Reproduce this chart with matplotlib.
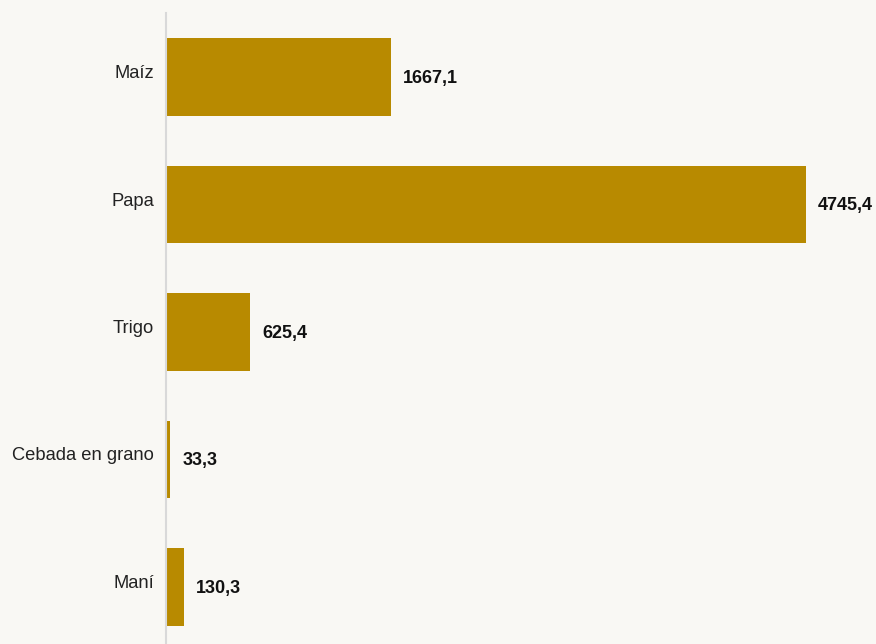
import matplotlib.pyplot as plt
from matplotlib.transforms import ScaledTranslation

cultivos = ["Maíz", "Papa", "Trigo", "Cebada en grano", "Maní"]
valores = [1667.1, 4745.4, 625.4, 33.3, 130.3]
etiquetas = ["1667,1", "4745,4", "625,4", "33,3", "130,3"]

plt.rcParams['font.family'] = ['Liberation Sans', 'DejaVu Sans']

fondo = "#f9f8f4"
fig = plt.figure(figsize=(8.76, 6.44), dpi=100, facecolor=fondo)
ax = fig.add_axes([166/876, -6.75/644, 710/876, 637.5/644])
ax.set_facecolor(fondo)

pos = range(len(cultivos))
ax.barh(pos, valores, height=0.61, color="#b88a00")
ax.set_ylim(len(cultivos) - 0.5, -0.5)
ax.set_xlim(0, 710/0.1349)

for p, v, t in zip(pos, valores, etiquetas):
    ax.annotate(t, (v, p), xytext=(8.5, -1), textcoords="offset points",
                va="center", ha="left", fontsize=13, fontweight="bold",
                color="#111111")

# etiquetas de categoria, un poco por encima del centro de la barra
desplaz = ScaledTranslation(-0.12, 0.035, fig.dpi_scale_trans)
for p, c in zip(pos, cultivos):
    ax.text(0, p, c, transform=ax.get_yaxis_transform() + desplaz,
            ha="right", va="center", fontsize=13.2, color="#222222")

ax.set_yticks([])
ax.set_xticks([])
for s in ["top", "right", "bottom"]:
    ax.spines[s].set_visible(False)
ax.spines["left"].set_color("#d9d9d9")
ax.spines["left"].set_linewidth(1.5)

fig.savefig("out.png", dpi=100, facecolor=fondo)
